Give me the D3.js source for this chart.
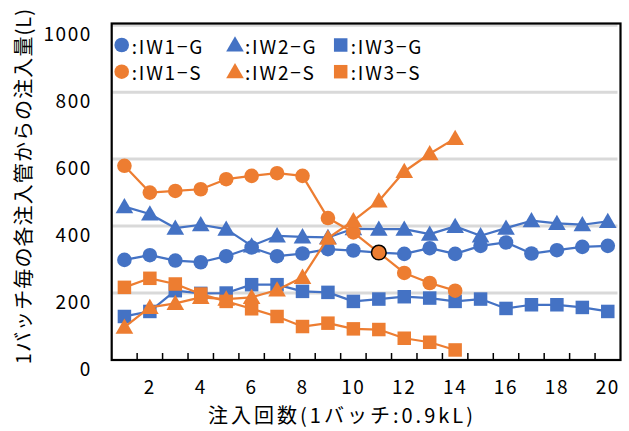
<!DOCTYPE html>
<html>
<head>
<meta charset="utf-8">
<script src="https://cdn.jsdelivr.net/npm/d3@7"></script>
<style>
  html, body { margin: 0; padding: 0; background: #ffffff; }
  svg { display: block; }
  text { font-family: "Noto Sans CJK JP", "Noto Sans", sans-serif; fill: #000; }
</style>
</head>
<body>
<svg id="chart" width="629" height="431"></svg>
<script>
// Injection count (batches of 0.9 kL)
const batches = d3.range(1, 21);
const xTickLabels = [2, 4, 6, 8, 10, 12, 14, 16, 18, 20];
const yTicks = [0, 200, 400, 600, 800, 1000];

// Volume injected from each pipe per batch (L)
const iw1G = [299, 313, 297, 292, 310, 336, 310, 318, 331, 327, 321, 317, 334, 317, 341, 351, 318, 328, 338, 341];
const iw2G = [458, 436, 394, 404, 391, 341, 371, 368, 366, 392, 391, 391, 376, 399, 371, 394, 416, 408, 404, 414];
const iw3G = [130, 145, 207, 199, 200, 225, 225, 205, 202, 175, 182, 189, 185, 175, 182, 154, 165, 165, 157, 145];
const iw1S = [580, 500, 505, 510, 540, 550, 558, 550, 424, 381, 321, 260, 230, 207];
const iw2S = [98, 157, 169, 187, 182, 187, 209, 247, 364, 416, 475, 563, 616, 662];
const iw3S = [217, 244, 227, 197, 175, 153, 130, 100, 110, 93, 91, 65, 53, 30];

const seriesNames = ["IW1−G", "IW2−G", "IW3−G", "IW1−S", "IW2−S", "IW3−S"];
const seriesValues = [iw1G, iw2G, iw3G, iw1S, iw2S, iw3S];
const selectedPoint = { series: 3, index: 10 }; // outlined point on IW1-S

const BLUE = "#4472C4", ORANGE = "#ED7D31";
const colors = [BLUE, BLUE, BLUE, ORANGE, ORANGE, ORANGE];
const shapes = ["circle", "triangle", "square", "circle", "triangle", "square"];

const svg = d3.select("#chart");
const plot = { left: 111.7, right: 620.5, top: 23.5, bottom: 360 };

const x = d3.scaleBand().domain(batches).range([plot.left, plot.right]).padding(0);
const y = d3.scaleLinear().domain([0, 1000]).range([plot.bottom, 25.2]);
const cx = d => x(d) + x.bandwidth() / 2;

// Horizontal gridlines
svg.append("g").selectAll("line")
  .data(yTicks.filter(v => v > 0))
  .join("line")
  .attr("x1", plot.left).attr("x2", plot.right - 3)
  .attr("y1", d => y(d)).attr("y2", d => y(d))
  .attr("stroke", "#d9d9d9").attr("stroke-width", 3);

// Y tick labels
svg.append("g").selectAll("text")
  .data(yTicks)
  .join("text")
  .attr("x", 92).attr("y", d => y(d) + 7)
  .attr("text-anchor", "end").attr("dominant-baseline", "central")
  .attr("font-size", 19).attr("letter-spacing", 1.6)
  .text(d => d);

// X axis with inward ticks at category boundaries
const xAxis = d3.axisBottom(x).tickSize(0).tickFormat("");
svg.append("g").attr("transform", `translate(0,${plot.bottom})`).call(xAxis).call(g => g.select(".domain").remove());
svg.append("g").selectAll("line")
  .data(batches.slice(1))
  .join("line")
  .attr("x1", d => x(d)).attr("x2", d => x(d))
  .attr("y1", plot.bottom - 7).attr("y2", plot.bottom)
  .attr("stroke", "#000").attr("stroke-width", 1.5);

svg.append("g").selectAll("text")
  .data(xTickLabels)
  .join("text")
  .attr("x", d => cx(d)).attr("y", 385)
  .attr("text-anchor", "middle").attr("dominant-baseline", "central")
  .attr("font-size", 19).attr("letter-spacing", 1.6)
  .text(d => d);

// Frame around the plot area
svg.append("rect")
  .attr("x", plot.left).attr("y", plot.top)
  .attr("width", plot.right - plot.left).attr("height", plot.bottom - plot.top)
  .attr("fill", "none").attr("stroke", "#000").attr("stroke-width", 2.2);

// Marker generator
function marker(shape, size) {
  if (shape === "circle") return d3.symbol(d3.symbolCircle, size.circle)();
  if (shape === "triangle") return d3.symbol(d3.symbolTriangle, size.triangle)();
  return d3.symbol(d3.symbolSquare, size.square)();
}
const mSize = { circle: Math.PI * 7.3 * 7.3, triangle: 135, square: 13.5 * 13.5 };

const line = d3.line().x((d, i) => cx(batches[i])).y(d => y(d));

seriesValues.forEach((vals, s) => {
  const g = svg.append("g");
  g.append("path")
    .attr("d", line(vals))
    .attr("fill", "none").attr("stroke", colors[s]).attr("stroke-width", 2.25)
    .attr("stroke-linejoin", "round");
  g.selectAll("path.m")
    .data(vals)
    .join("path").attr("class", "m")
    .attr("transform", (d, i) => {
      const dy = shapes[s] === "triangle" ? 1.5 : 0;
      return `translate(${cx(batches[i])},${y(d) + dy})`;
    })
    .attr("d", marker(shapes[s], mSize))
    .attr("fill", colors[s])
    .attr("stroke", (d, i) => (s === selectedPoint.series && i === selectedPoint.index) ? "#000" : "none")
    .attr("stroke-width", 1.5);
});

// Legend
const legendCols = [121.7, 235, 340.7];
const legendRows = [45, 71.7];
const legend = svg.append("g");
seriesNames.forEach((name, s) => {
  const lx = legendCols[s % 3], ly = legendRows[Math.floor(s / 3)];
  legend.append("path")
    .attr("transform", `translate(${lx},${ly + (shapes[s] === "triangle" ? 1.5 : 0)})`)
    .attr("d", marker(shapes[s], mSize))
    .attr("fill", colors[s]);
  legend.append("text")
    .attr("x", lx + 10).attr("y", ly)
    .attr("dominant-baseline", "central")
    .attr("font-size", 19).attr("letter-spacing", 1.8)
    .text(":" + name);
});

// Axis titles
svg.append("text")
  .attr("x", 342).attr("y", 414)
  .attr("text-anchor", "middle").attr("dominant-baseline", "central")
  .attr("font-size", 20).attr("letter-spacing", 3)
  .text("注入回数(1バッチ:0.9kL)");

svg.append("text")
  .attr("transform", "translate(22,186) rotate(-90)")
  .attr("text-anchor", "middle").attr("dominant-baseline", "central")
  .attr("font-size", 20).attr("letter-spacing", 1.1)
  .text("1バッチ毎の各注入管からの注入量(L)");
</script>
</body>
</html>
